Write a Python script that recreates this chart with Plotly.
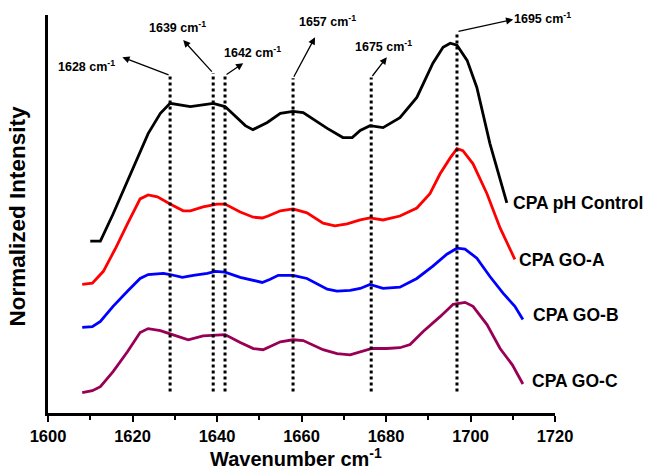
import plotly.graph_objects as go

# ---- data ----
wn_control = [1610.0, 1612.4, 1615.4, 1618.8, 1621.8, 1623.7, 1626.6, 1628.9, 1633.7, 1639.1,
              1641.9, 1646.7, 1648.5, 1651.9, 1655.0, 1658.0, 1660.4, 1666.1, 1669.8, 1672.0,
              1673.9, 1676.2, 1679.3, 1683.3, 1687.3, 1691.1, 1693.5, 1695.2, 1696.8, 1699.2,
              1701.5, 1704.6, 1708.6]
int_control = [43.2, 43.2, 50.0, 58.3, 65.9, 70.2, 75.3, 77.8, 77.0, 77.8,
               77.0, 72.2, 71.2, 73.0, 75.3, 75.8, 75.5, 71.5, 69.2, 69.2,
               71.0, 72.2, 71.7, 74.2, 79.3, 87.9, 91.9, 92.9, 92.4, 88.6,
               81.8, 67.7, 52.8]

wn_goa = [1608.1, 1610.5, 1613.1, 1615.9, 1618.8, 1621.8, 1623.7, 1625.9, 1628.9, 1632.0,
          1633.7, 1636.7, 1640.0, 1641.9, 1645.5, 1648.6, 1650.7, 1652.1, 1655.0, 1658.0,
          1661.3, 1665.1, 1667.9, 1670.8, 1673.9, 1676.2, 1679.3, 1683.3, 1687.3, 1690.4,
          1692.8, 1695.2, 1696.8, 1698.2, 1700.6, 1703.9, 1707.0, 1710.5]
int_goa = [32.3, 32.6, 35.6, 41.2, 47.5, 53.8, 54.8, 54.3, 52.5, 50.8,
           50.8, 51.8, 52.5, 52.5, 50.5, 49.2, 49.0, 49.5, 50.8, 51.3,
           50.3, 47.7, 47.0, 47.5, 48.5, 49.0, 48.5, 49.5, 51.5, 55.1,
           60.1, 64.1, 66.4, 65.9, 62.6, 55.1, 46.5, 38.6]

wn_gob = [1608.1, 1610.5, 1612.4, 1615.4, 1618.8, 1621.8, 1623.7, 1627.3, 1628.9, 1631.8,
          1634.4, 1637.7, 1639.6, 1641.9, 1645.5, 1648.6, 1650.7, 1652.6, 1654.5, 1658.0,
          1661.3, 1666.1, 1668.4, 1671.5, 1673.9, 1676.2, 1679.3, 1683.3, 1687.3, 1691.1,
          1694.4, 1696.8, 1698.7, 1701.5, 1704.6, 1707.7, 1710.5, 1712.4]
int_gob = [21.5, 21.7, 23.0, 26.8, 30.6, 33.8, 34.8, 35.1, 34.8, 34.1,
           34.6, 35.1, 35.6, 35.4, 34.1, 33.3, 32.8, 33.6, 34.6, 34.6,
           33.8, 31.1, 30.6, 30.8, 31.3, 32.3, 31.3, 31.6, 33.8, 36.9,
           39.9, 41.4, 41.2, 38.9, 34.3, 30.1, 26.8, 23.5]

wn_goc = [1608.1, 1610.5, 1612.4, 1615.4, 1618.8, 1621.8, 1623.7, 1626.6, 1628.9, 1633.2,
          1636.7, 1640.0, 1641.9, 1645.5, 1648.6, 1650.9, 1652.6, 1655.0, 1658.0, 1660.4,
          1665.1, 1668.4, 1671.5, 1673.9, 1676.7, 1680.2, 1683.3, 1685.7, 1688.8, 1692.8,
          1695.9, 1698.7, 1700.6, 1703.9, 1707.0, 1709.9, 1712.4]
int_goc = [5.1, 5.6, 6.6, 10.4, 15.4, 20.2, 21.2, 20.7, 19.9, 18.4,
           19.4, 19.7, 19.7, 17.7, 16.2, 15.9, 16.7, 17.9, 18.4, 18.2,
           15.9, 14.9, 14.6, 15.4, 16.2, 16.2, 16.4, 17.2, 20.5, 24.2,
           27.3, 27.8, 26.8, 22.2, 16.2, 12.1, 7.3]

series_names = ["CPA pH Control", "CPA GO-A", "CPA GO-B", "CPA GO-C"]
series_colors = ["#000000", "#FF0000", "#0000FF", "#990055"]

peak_labels = ["1628", "1639", "1642", "1657", "1675", "1695"]
peak_pos = [1628.9, 1639.1, 1641.9, 1658.0, 1676.5, 1696.8]
peak_top = [84.8, 85.4, 84.8, 84.1, 84.3, 95.8]
peak_bottom = 5.4

x_ticks = [1600, 1620, 1640, 1660, 1680, 1700, 1720]

# ---- layout helpers (positions of annotation arrows and labels) ----
arrow_tips = [(1617.6, 89.4), (1632.0, 93.7), (1646.2, 87.9), (1663.2, 94.4), (1680.2, 89.4), (1710.1, 98.9)]
label_pos = [(1609.1, 87.1), (1630.6, 97.0), (1648.3, 90.7), (1666.1, 98.5), (1679.3, 92.2), (1717.1, 99.2)]
end_label_pos = [(1709.6, 52.8), (1711.0, 38.4), (1714.4, 24.5), (1714.1, 8.1)]

FONT = "Liberation Sans, Arial, sans-serif"

fig = go.Figure()
all_x = [wn_control, wn_goa, wn_gob, wn_goc]
all_y = [int_control, int_goa, int_gob, int_goc]
for xs, ys, name, col in zip(all_x, all_y, series_names, series_colors):
    fig.add_trace(go.Scatter(x=xs, y=ys, mode="lines", name=name,
                             line=dict(color=col, width=2.8), showlegend=False))

shapes = []
for p, t in zip(peak_pos, peak_top):
    shapes.append(dict(type="line", xref="x", yref="y", x0=p, x1=p, y0=peak_bottom, y1=t,
                       line=dict(color="black", width=3, dash="dot")))

annotations = []
for p, t, (tx, ty), (lx, ly), lab in zip(peak_pos, peak_top, arrow_tips, label_pos, peak_labels):
    annotations.append(dict(x=tx, y=ty, ax=p, ay=t, xref="x", yref="y", axref="x", ayref="y",
                            text="", showarrow=True, arrowhead=2, arrowsize=1.1, arrowwidth=1.3,
                            arrowcolor="black"))
    annotations.append(dict(x=lx, y=ly, xref="x", yref="y", showarrow=False,
                            text=lab + " cm<sup>-1</sup>",
                            font=dict(family=FONT, size=12.5, color="black", weight="bold"),
                            xanchor="center", yanchor="middle"))

for (lx, ly), name in zip(end_label_pos, series_names):
    annotations.append(dict(x=lx, y=ly, xref="x", yref="y", showarrow=False,
                            text=name,
                            font=dict(family=FONT, size=17.5, color="black", weight="bold"),
                            xanchor="left", yanchor="middle"))

annotations.append(dict(x=0.489, y=-0.111, xref="paper", yref="paper", showarrow=False,
                        text="Wavenumber cm<sup>-1</sup>",
                        font=dict(family=FONT, size=20, color="black", weight="bold"),
                        xanchor="center", yanchor="middle"))
annotations.append(dict(x=-0.06, y=0.495, xref="paper", yref="paper", showarrow=False,
                        text="Normalized Intensity", textangle=-90,
                        font=dict(family=FONT, size=22.5, color="black", weight="bold"),
                        xanchor="center", yanchor="middle"))

fig.update_layout(
    width=652, height=469,
    margin=dict(l=48, r=97, t=15, b=56),
    paper_bgcolor="white", plot_bgcolor="white",
    shapes=shapes, annotations=annotations,
    font=dict(family=FONT, color="black"),
    xaxis=dict(range=[1600, 1720], tickvals=x_ticks,
               showgrid=False, zeroline=False, showline=True, linecolor="black", linewidth=2.5,
               ticks="outside", ticklen=6, tickwidth=2, tickcolor="black",
               tickfont=dict(family=FONT, size=16.5, color="black", weight="bold"),
               minor=dict(dtick=10, tick0=1600, ticks="outside", ticklen=4, tickwidth=2, tickcolor="black")),
    yaxis=dict(range=[0, 100], showgrid=False, zeroline=False, showline=True, linecolor="black",
               linewidth=3, showticklabels=False, ticks=""),
)

fig.write_html("out.html")
